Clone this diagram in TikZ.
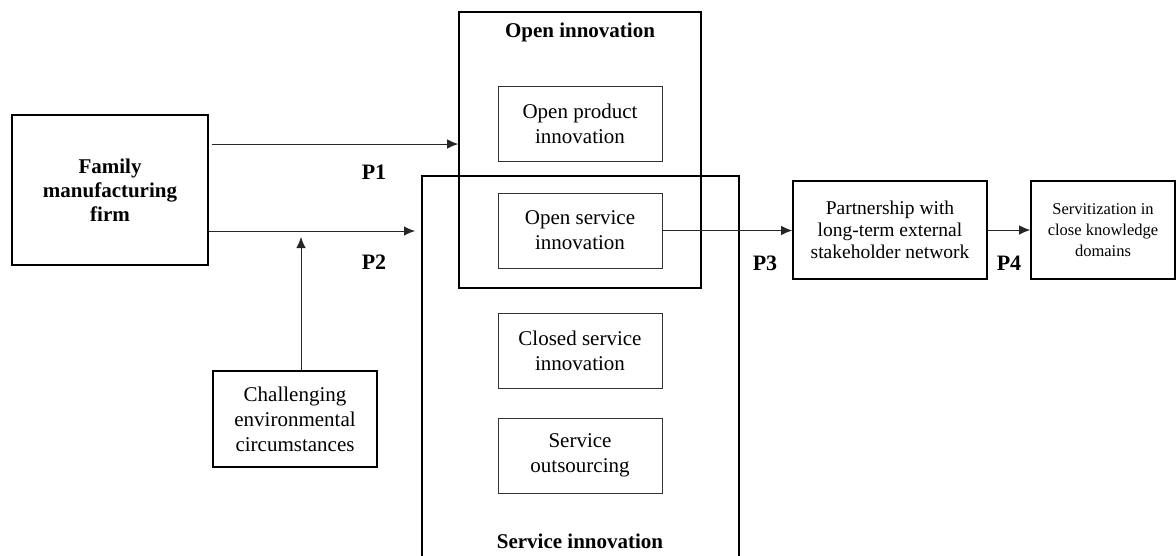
\documentclass[tikz,border=0pt]{standalone}
\usepackage{fontspec}
\setmainfont{Liberation Serif}
\usetikzlibrary{arrows.meta}

\begin{document}
\begin{tikzpicture}[x=1pt,y=-1pt,
	bigbox/.style={draw,line width=1.6pt,inner sep=0pt,align=center},
	smallbox/.style={draw=black!80,line width=1pt,inner sep=0pt,align=center,minimum width=164pt,minimum height=75pt},
	txt/.style={font=\fontsize{21}{25}\selectfont},
	lab/.style={font=\fontsize{21}{24}\selectfont\bfseries,align=center},
	arr/.style={draw=black!85,line width=0.9pt,-{Latex[length=11pt,width=9.5pt]}}]
		\useasboundingbox (0,0) rectangle (1176,555);

		% firm and moderator
		\node[bigbox,lab,minimum width=196pt,minimum height=150pt] (Fam) at (110,190) {Family\\manufacturing\\firm};
		\node[bigbox,txt,minimum width=164pt,minimum height=96pt] (Chal) at (295,419) {Challenging\\environmental\\circumstances};

		% open innovation
		\node[bigbox,minimum width=242pt,minimum height=276pt] (OI) at (580,150) {};
		\node[lab] (OItitle) at (580,32) {Open innovation};
		\node[smallbox,txt] (OPI) at (580,123.5) {Open product\\innovation};
		\node[smallbox,txt] (OSI) at (580,230.5) {Open service\\innovation};

		% service innovation (open at the bottom)
		\coordinate (SIbl) at (422,560);
		\coordinate (SItl) at (422,176);
		\coordinate (SItr) at (739,176);
		\coordinate (SIbr) at (739,560);
		\draw[line width=1.6pt] (SIbl)--(SItl)--(SItr)--(SIbr);
		\node[lab] (SItitle) at (580,541) {Service innovation};
		\node[smallbox,txt] (CSI) at (580,351) {Closed service\\innovation};
		\node[smallbox,txt] (SO) at (580,455.5) {Service\\outsourcing};

		% outcomes
		\node[bigbox,font=\fontsize{19.5}{22}\selectfont,minimum width=194pt,minimum height=98pt] (Part) at (890,230) {Partnership with\\long-term external\\stakeholder network};
		\node[bigbox,font=\fontsize{16.5}{21}\selectfont,minimum width=144pt,minimum height=98pt] (Serv) at (1103,230) {Servitization in\\close knowledge\\domains};

		% connectors
		\coordinate (p1) at (212,144);
		\draw[arr] (p1)--(p1 -| OI.west);
		\coordinate (p2) at (415,231);
		\draw[arr] (Fam.east |- p2)--(p2);
		\coordinate (mod) at (301,237);
		\draw[arr] (mod |- Chal.north)--(mod);
		\draw[arr] (OSI.east)--(OSI.east -| Part.west);
		\draw[arr] (Part.east)--(Serv.west);

		% propositions
		\node[lab,font=\fontsize{22}{24}\selectfont\bfseries] (P1) at (374,172) {P1};
		\node[lab,font=\fontsize{22}{24}\selectfont\bfseries] (P2) at (374,262) {P2};
		\node[lab,font=\fontsize{22}{24}\selectfont\bfseries] (P3) at (765,263) {P3};
		\node[lab,font=\fontsize{22}{24}\selectfont\bfseries] (P4) at (1009,263) {P4};
\end{tikzpicture}
\end{document}
